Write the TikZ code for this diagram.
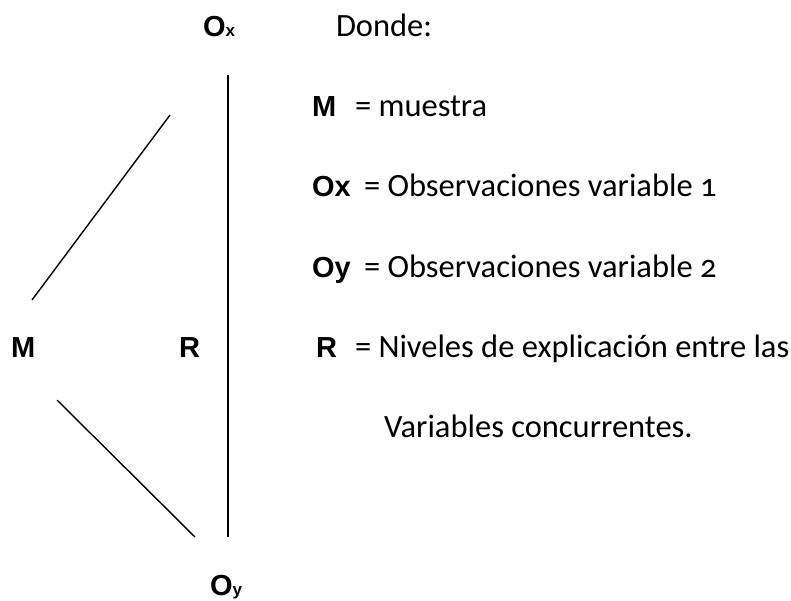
\documentclass[tikz,border=0pt]{standalone}
\usepackage{fontspec}
\setmainfont{Carlito}[Numbers=OldStyle]
\newfontfamily\labfont{Liberation Sans}
\begin{document}
\begin{tikzpicture}[x=1pt,y=-1pt,
  every node/.style={inner sep=0pt, outer sep=0pt},
  lbl/.style={font=\labfont\bfseries\fontsize{29}{31}\selectfont, anchor=base west},
  txt/.style={font=\fontsize{32.5}{34}\selectfont, anchor=base west},
  ln/.style={line width=1.4pt, black}]
\useasboundingbox (0,0) rectangle (791,601);
% diagram labels
\node[lbl] (Ox) at (203,37) {O{\fontsize{17}{17}\selectfont x}};
\node[lbl] (M) at (11,357) {M};
\node[lbl] (R) at (179,357) {R};
\node[lbl] (Oy) at (210,595) {O{\fontsize{17}{17}\selectfont y}};
% lines
\coordinate (u1) at (32,300);
\coordinate (u2) at (170,115);
\coordinate (d1) at (57,400);
\coordinate (d2) at (195,537);
\coordinate (v1) at (228,75);
\coordinate (v2) at (228,537);
\draw[ln] (u1) -- (u2);
\draw[ln] (d1) -- (d2);
\draw[ln] (v1) -- (v2);
% legend
\node[txt] (donde) at (336,37) {Donde:};
\node[lbl] (lM) at (312,117) {M};
\node[txt] (tM) at (355,117) {= muestra};
\node[lbl] (lOx) at (312,197) {Ox};
\node[txt] (tOx) at (364,197) {= Observaciones variable 1};
\node[lbl] (lOy) at (312,277) {Oy};
\node[txt] (tOy) at (364,277) {= Observaciones variable 2};
\node[lbl] (lR) at (316,357) {R};
\node[txt] (tR) at (355,357) {= Niveles de explicación entre las};
\node[txt] (tR2) at (384,437) {Variables concurrentes.};
\end{tikzpicture}
\end{document}
